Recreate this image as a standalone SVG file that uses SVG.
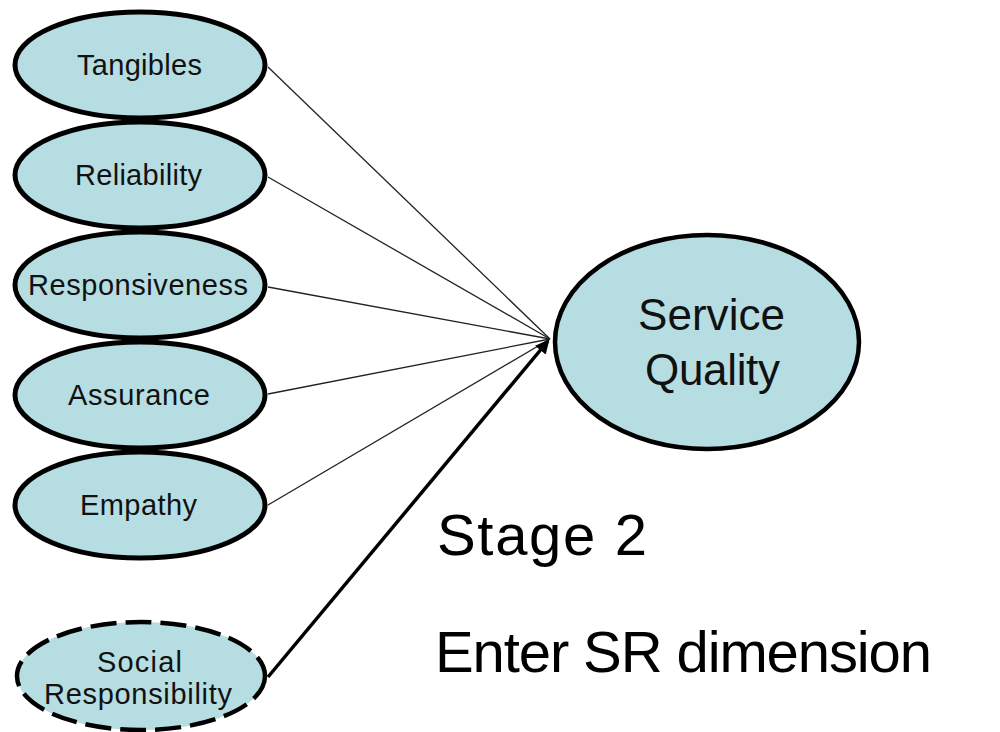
<svg xmlns="http://www.w3.org/2000/svg" width="1000" height="732" viewBox="0 0 1000 732">
  <style>
    .dim { fill: #b6dde2; stroke: #000; stroke-width: 5; }
    .dashed { stroke-dasharray: 26 9; stroke-width: 4.5; }
    .target { fill: #b6dde2; stroke: #000; stroke-width: 4.5; }
    .lbl { font-family: "Liberation Sans", Arial, sans-serif; font-size: 29px; fill: #111; text-anchor: middle; }
    .big { font-family: "Liberation Sans", Arial, sans-serif; font-size: 44px; fill: #111; text-anchor: middle; }
    .note { font-family: "Liberation Sans", Arial, sans-serif; font-size: 58px; fill: #000; }
    .thin { stroke: #222; stroke-width: 1.3; fill: none; }
    .thick { stroke: #000; stroke-width: 3.5; fill: none; }
  </style>
  <defs>
    <marker id="head" markerWidth="4" markerHeight="4" refX="3.4" refY="2" orient="auto" markerUnits="strokeWidth">
      <path d="M0,0 L4,2 L0,4 Z" fill="#000"/>
    </marker>
  </defs>
  <rect width="1000" height="732" fill="#fff"/>

  <!-- connectors: every dimension feeds the overall quality construct -->
  <g id="connectors">
    <line class="thin" x1="268" y1="67" x2="550" y2="339"/>
    <line class="thin" x1="268" y1="177" x2="550" y2="339"/>
    <line class="thin" x1="268" y1="287" x2="550" y2="339"/>
    <line class="thin" x1="268" y1="394" x2="550" y2="339"/>
    <line class="thin" x1="268" y1="505" x2="550" y2="339"/>
    <line class="thick" x1="268" y1="677" x2="548" y2="341" marker-end="url(#head)"/>
  </g>

  <g id="tangibles">
    <ellipse class="dim" cx="140" cy="65" rx="125" ry="53"/>
    <text class="lbl" x="139.5" y="75" textLength="125" lengthAdjust="spacing">Tangibles</text>
  </g>
  <g id="reliability">
    <ellipse class="dim" cx="140" cy="175" rx="125" ry="53"/>
    <text class="lbl" x="138.5" y="185" textLength="127" lengthAdjust="spacing">Reliability</text>
  </g>
  <g id="responsiveness">
    <ellipse class="dim" cx="140" cy="285" rx="125" ry="53"/>
    <text class="lbl" x="138" y="295" textLength="220" lengthAdjust="spacing">Responsiveness</text>
  </g>
  <g id="assurance">
    <ellipse class="dim" cx="140" cy="395" rx="125" ry="53"/>
    <text class="lbl" x="139" y="405" textLength="142" lengthAdjust="spacing">Assurance</text>
  </g>
  <g id="empathy">
    <ellipse class="dim" cx="140" cy="505" rx="125" ry="53"/>
    <text class="lbl" x="138.5" y="515" textLength="117" lengthAdjust="spacing">Empathy</text>
  </g>
  <g id="social-responsibility">
    <ellipse class="dim dashed" cx="141" cy="676" rx="124" ry="54"/>
    <text class="lbl" x="139.5" y="672" textLength="85" lengthAdjust="spacing">Social</text>
    <text class="lbl" x="138" y="704" textLength="188" lengthAdjust="spacing">Responsibility</text>
  </g>
  <g id="service-quality">
    <ellipse class="target" cx="707" cy="342" rx="152" ry="107"/>
    <text class="big" x="711.5" y="330" textLength="147" lengthAdjust="spacing">Service</text>
    <text class="big" x="712.5" y="385" textLength="135" lengthAdjust="spacing">Quality</text>
  </g>

  <g id="notes">
    <text class="note" x="437" y="555" textLength="210" lengthAdjust="spacing">Stage 2</text>
    <text class="note" x="435" y="672" textLength="497" lengthAdjust="spacing">Enter SR dimension</text>
  </g>
</svg>
